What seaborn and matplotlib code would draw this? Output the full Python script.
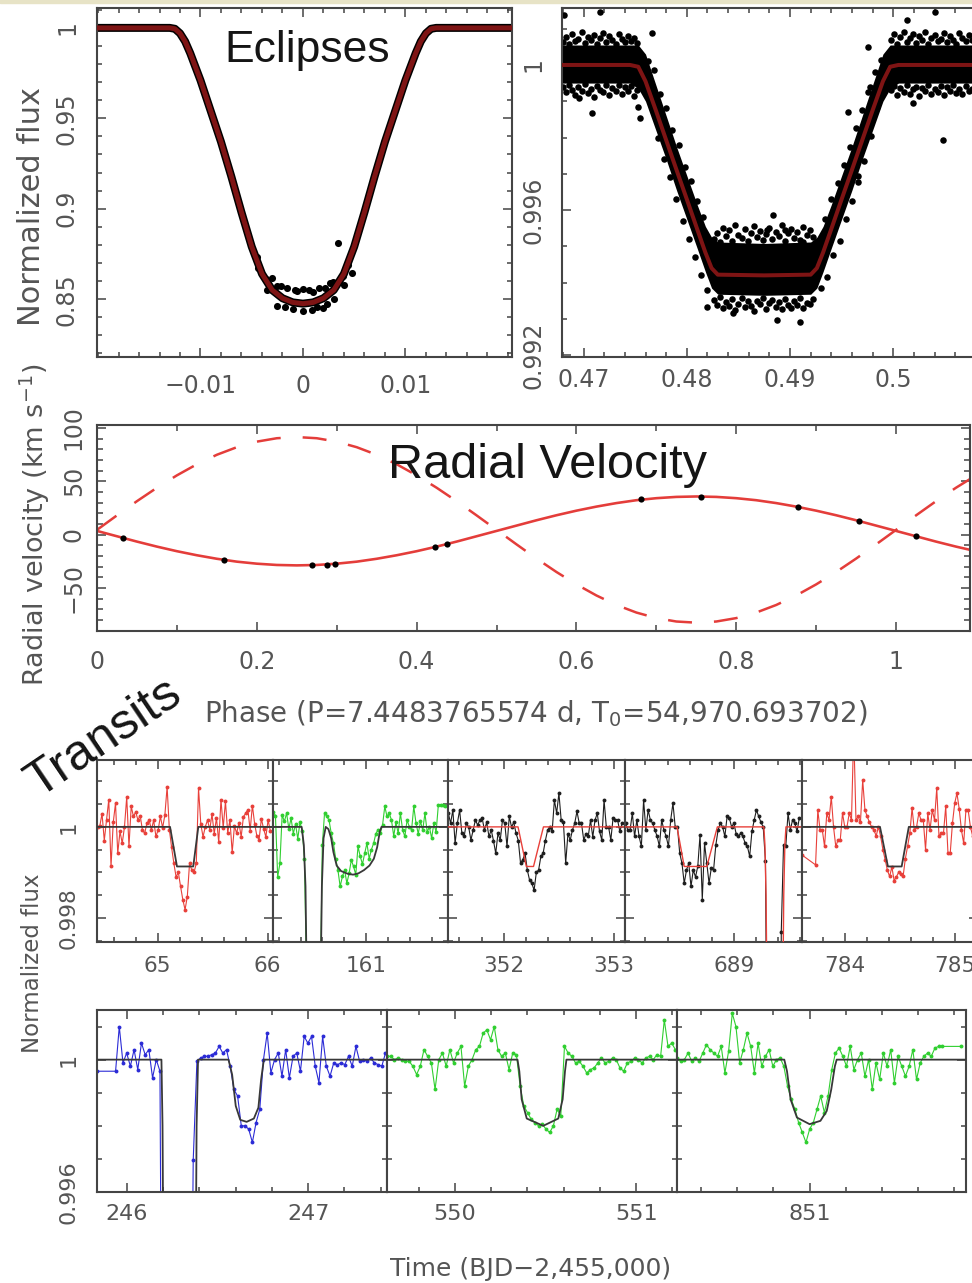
import numpy as np
import pandas as pd
import matplotlib
matplotlib.use("Agg")
import matplotlib.pyplot as plt
from matplotlib.ticker import FixedLocator, MultipleLocator, FuncFormatter
from matplotlib.patches import Rectangle
import seaborn as sns

# ---------------- primary eclipse (phase-folded) ----------------
ecl1_phase = [-0.0205, -0.0130, -0.0125, -0.0120, -0.0115, -0.0110, -0.0100, -0.0090,
              -0.0080, -0.0070, -0.0060, -0.0050, -0.0040, -0.0030, -0.0020, -0.0010,
              0.0000, 0.0010, 0.0020, 0.0030, 0.0040, 0.0050, 0.0060, 0.0070,
              0.0080, 0.0090, 0.0100, 0.0110, 0.0115, 0.0120, 0.0125, 0.0130, 0.0205]
ecl1_flux = [1.0, 1.0, 0.9995, 0.997, 0.9925, 0.986, 0.971, 0.954,
             0.937, 0.918, 0.898, 0.879, 0.864, 0.855, 0.8505, 0.8482,
             0.8475, 0.8482, 0.8505, 0.855, 0.864, 0.879, 0.898, 0.918,
             0.937, 0.954, 0.971, 0.986, 0.9925, 0.997, 0.9995, 1.0, 1.0]
# folded points standing out of the band around minimum
ecl1_pts_phase = [-0.00438, -0.00356, -0.00258, -0.0016, -0.00062, 0.00003, 0.00101,
                  0.00216, 0.00297, 0.00395, 0.00477, -0.00258, -0.00095, 0.0,
                  0.00134, 0.00232, 0.0034,
                  -0.0045, -0.0030, -0.0021, -0.0008, 0.0006, 0.0016, 0.0026, 0.0044,
                  -0.0035, -0.0018, 0.0009, 0.0020, 0.0030, 0.0040]
ecl1_pts_flux = [0.8674, 0.8610, 0.8573, 0.8564, 0.8546, 0.8555, 0.8537,
                 0.8564, 0.8592, 0.8628, 0.8647, 0.8463, 0.8445, 0.8436,
                 0.8454, 0.8473, 0.8812,
                 0.8735, 0.8615, 0.8575, 0.8550, 0.8552, 0.8560, 0.8590, 0.8690,
                 0.8550, 0.8455, 0.8440, 0.8452, 0.8500, 0.8580]

# ---------------- secondary eclipse ----------------
ecl2_phase = [0.4670, 0.4745, 0.4753, 0.4760, 0.4770, 0.4780, 0.4790, 0.4800, 0.4810,
              0.4818, 0.4824, 0.4830, 0.4875, 0.4920, 0.4926, 0.4932, 0.4940, 0.4950,
              0.4960, 0.4970, 0.4980, 0.4990, 0.4997, 0.5005, 0.5110]
ecl2_fit = [1.0, 1.0, 0.99995, 0.99955, 0.99875, 0.99793, 0.99711, 0.99630, 0.99548,
            0.99483, 0.99440, 0.99422, 0.99420, 0.99422, 0.99440, 0.99483, 0.99548, 0.99630,
            0.99711, 0.99793, 0.99875, 0.99955, 0.99995, 1.0, 1.0]
# dense core of the folded points (upper / lower edge)
ecl2_core_hi = [1.00055, 1.00055, 1.00055, 1.00030, 0.99945, 0.99860, 0.99775, 0.99695, 0.99615,
                0.99555, 0.99525, 0.99512, 0.99508, 0.99512, 0.99525, 0.99555, 0.99615, 0.99695,
                0.99775, 0.99860, 0.99945, 1.00030, 1.00055, 1.00055, 1.00055]
ecl2_core_lo = [0.99950, 0.99950, 0.99935, 0.99900, 0.99820, 0.99740, 0.99655, 0.99575, 0.99495,
                0.99430, 0.99385, 0.99368, 0.99365, 0.99368, 0.99385, 0.99430, 0.99495, 0.99575,
                0.99655, 0.99740, 0.99820, 0.99900, 0.99935, 0.99950, 0.99950]
# individual points around the core
ecl2_left_phase = [0.4680, 0.4683, 0.4686, 0.4689, 0.4692, 0.4695, 0.4698, 0.4701, 0.4704,
                   0.4707, 0.4710, 0.4713, 0.4716, 0.4719, 0.4722, 0.4725, 0.4728, 0.4731,
                   0.4734, 0.4737, 0.4740, 0.4743, 0.4746, 0.4749, 0.4752]
ecl2_left_top = [1.00062, 1.00078, 1.00058, 1.00085, 1.00066, 1.00072, 1.00091, 1.00060, 1.00076,
                 1.00068, 1.00083, 1.00057, 1.00074, 1.00088, 1.00064, 1.00079, 1.00069, 1.00058,
                 1.00086, 1.00072, 1.00063, 1.00081, 1.00067, 1.00075, 1.00060]
ecl2_left_bot = [0.99938, 0.99925, 0.99945, 0.99930, 0.99918, 0.99940, 0.99928, 0.99947, 0.99922,
                 0.99935, 0.99912, 0.99942, 0.99930, 0.99926, 0.99944, 0.99917, 0.99936, 0.99929,
                 0.99946, 0.99921, 0.99938, 0.99927, 0.99943, 0.99915, 0.99932]
ecl2_right_phase = [0.4998, 0.5001, 0.5004, 0.5007, 0.5010, 0.5013, 0.5016, 0.5019, 0.5022,
                    0.5025, 0.5028, 0.5031, 0.5034, 0.5037, 0.5040, 0.5043, 0.5046, 0.5049,
                    0.5052, 0.5055, 0.5058, 0.5061, 0.5064, 0.5067, 0.5070, 0.5073, 0.5076,
                    0.5079]
ecl2_right_top = [1.00070, 1.00084, 1.00059, 1.00077, 1.00092, 1.00064, 1.00073, 1.00086, 1.00061,
                  1.00079, 1.00068, 1.00090, 1.00057, 1.00075, 1.00083, 1.00066, 1.00071, 1.00089,
                  1.00062, 1.00080, 1.00069, 1.00058, 1.00087, 1.00073, 1.00065, 1.00082, 1.00070,
                  1.00061]
ecl2_right_bot = [0.99930, 0.99942, 0.99918, 0.99936, 0.99925, 0.99946, 0.99921, 0.99933, 0.99940,
                  0.99914, 0.99937, 0.99928, 0.99945, 0.99920, 0.99934, 0.99926, 0.99943, 0.99917,
                  0.99939, 0.99929, 0.99944, 0.99922, 0.99935, 0.99919, 0.99941, 0.99927, 0.99933,
                  0.99924]
ecl2_floor_phase = [0.4826, 0.4829, 0.4832, 0.4835, 0.4838, 0.4841, 0.4844, 0.4847, 0.4850,
                    0.4853, 0.4856, 0.4859, 0.4862, 0.4865, 0.4868, 0.4871, 0.4874, 0.4877,
                    0.4880, 0.4883, 0.4886, 0.4889, 0.4892, 0.4895, 0.4898, 0.4901, 0.4904,
                    0.4907, 0.4910, 0.4913, 0.4916, 0.4919, 0.4922]
ecl2_floor_top = [0.99520, 0.99538, 0.99512, 0.99550, 0.99528, 0.99545, 0.99516, 0.99560, 0.99532,
                  0.99522, 0.99548, 0.99514, 0.99537, 0.99556, 0.99525, 0.99542, 0.99518, 0.99534,
                  0.99551, 0.99521, 0.99540, 0.99529, 0.99558, 0.99515, 0.99536, 0.99547, 0.99523,
                  0.99539, 0.99517, 0.99552, 0.99530, 0.99544, 0.99526]
ecl2_floor_bot = [0.99352, 0.99338, 0.99360, 0.99330, 0.99346, 0.99335, 0.99355, 0.99325, 0.99342,
                  0.99358, 0.99332, 0.99348, 0.99336, 0.99322, 0.99350, 0.99340, 0.99357, 0.99328,
                  0.99344, 0.99353, 0.99334, 0.99347, 0.99326, 0.99356, 0.99339, 0.99331, 0.99349,
                  0.99337, 0.99359, 0.99329, 0.99345, 0.99341, 0.99354]
ecl2_slope_phase = [0.4762, 0.4768, 0.4774, 0.4780, 0.4786, 0.4792, 0.4798, 0.4804, 0.4810, 0.4816,
                    0.4766, 0.4772, 0.4778, 0.4784, 0.4790, 0.4796, 0.4802, 0.4808, 0.4814, 0.4820,
                    0.4988, 0.4982, 0.4976, 0.4970, 0.4964, 0.4958, 0.4952, 0.4946, 0.4940, 0.4934,
                    0.4984, 0.4978, 0.4972, 0.4966, 0.4960, 0.4954, 0.4948, 0.4942, 0.4936, 0.4930]
ecl2_slope_flux = [1.00010, 0.99985, 0.99920, 0.99880, 0.99820, 0.99780, 0.99720, 0.99680, 0.99625, 0.99580,
                   0.99890, 0.99800, 0.99740, 0.99690, 0.99630, 0.99570, 0.99520, 0.99470, 0.99420, 0.99380,
                   1.00015, 0.99980, 0.99925, 0.99875, 0.99825, 0.99775, 0.99725, 0.99675, 0.99630, 0.99575,
                   0.99885, 0.99805, 0.99735, 0.99695, 0.99625, 0.99575, 0.99515, 0.99475, 0.99415, 0.99385]
ecl2_stray_phase = [0.47081, 0.47549, 0.47532, 0.47662, 0.46952, 0.47162, 0.50485, 0.50195, 0.50131,
                    0.50405, 0.49662, 0.49565, 0.48839, 0.48953, 0.48775, 0.49130, 0.48195, 0.48872,
                    0.49098, 0.48452, 0.49759, 0.49775, 0.46806]
ecl2_stray_flux = [0.99867, 0.99853, 0.99885, 1.00087, 0.99908, 1.00147, 0.99793, 0.99894, 1.00124,
                   1.00147, 0.99678, 0.99871, 0.99586, 0.99545, 0.99545, 0.99513, 0.99333, 0.99297,
                   0.99292, 0.99315, 1.00050, 0.99940, 1.00138]

# ---------------- radial velocities ----------------
rv_phase = [0.032, 0.159, 0.269, 0.288, 0.298, 0.423, 0.438, 0.681, 0.756, 0.877, 0.954, 1.025]
rv_star1 = [-3.0, -23.5, -28.5, -28.0, -27.5, -11.5, -8.5, 33.0, 35.7, 26.0, 12.5, -1.5]
rv_curve_phase = np.linspace(0.0, 1.1, 45)
rv_curve_star1 = [3.5, -1.5, -6.5, -11.2, -15.5, -19.3, -22.6, -25.3, -27.2, -28.4, -28.8,
                  -28.4, -27.2, -25.3, -22.6, -19.3, -15.5, -11.2, -6.5, -1.5, 3.5,
                  8.5, 13.5, 18.2, 22.5, 26.3, 29.6, 32.3, 34.2, 35.4, 35.8,
                  35.4, 34.2, 32.3, 29.6, 26.3, 22.5, 18.2, 13.5, 8.5, 3.5,
                  -1.5, -6.5, -11.2, -15.5]
rv_curve_star2 = [4.5, 18.1, 31.4, 44.0, 55.6, 66.0, 74.9, 82.0, 87.2, 90.4, 91.5,
                  90.4, 87.2, 82.0, 74.9, 66.0, 55.6, 44.0, 31.4, 18.1, 4.5,
                  -9.1, -22.4, -35.0, -46.6, -57.0, -65.9, -73.0, -78.2, -81.4, -82.5,
                  -81.4, -78.2, -73.0, -65.9, -57.0, -46.6, -35.0, -22.4, -9.1, 4.5,
                  18.1, 31.4, 44.0, 55.6]

# ---------------- transits (relative flux in ppm, long cadence) ----------------
cadence = 0.0204

tr065_start, tr065_xlim = 64.455, (64.45, 66.05)
tr065_ppm = [0, 20, 290, -300, 150, 600, -870, 100, 520, -580,
             -100, -360, 0, 660, -430, 450, 230, 330, 150, 250,
             -70, -140, 80, 150, -70, 150, -210, -70, 230, -20,
             260, 880, -60, -450, -800, -1100, -1000, -1310, -1600, -1820,
             -1530, -800, -950, -1000, -800, 850, 70, -220, 0, 150,
             -60, 280, -150, 200, -340, 600, -20, 560, -130, 150,
             -560, 20, -140, 90, -220, 220, 300, 380, -80, 470,
             70, -200, -280, 180, -40, -220, 150, -90]
tr065_fit_t = [64.45, 65.114, 65.177, 65.325, 65.371, 66.05]
tr065_fit_f = [1.0, 1.0, 0.99913, 0.99913, 1.0, 1.0]

tr161_start, tr161_xlim = 160.15, (160.148, 161.748)
tr161_ppm = [330, 250, -1100, -800, 260, 120, 300, -40, 190, -150,
             60, -260, 100, -80, -700, -3500, -25000, -90000, -140000, -100000,
             -35000, -4000, -400, 300, 230, 150, -140, -360, -700, -950,
             -1310, -1090, -950, -1240, -1020, -730, -870, -1050, -430, -650,
             -820, -580, -360, -700, -500, -360, -150, -60, -140, 40,
             450, 230, 300, 150, -200, 100, -140, 300, -70, -210,
             150, 0, -70, 450, 80, -150, 120, -70, 300, -110,
             0, -250, 80, -120, 480, 490, 490, 470]
tr161_fit_t = [160.148, 160.41, 160.43, 160.445, 160.46, 160.47, 160.52, 160.57, 160.58,
               160.595, 160.61, 160.63, 160.655, 160.68, 160.70, 160.73, 160.77, 160.83,
               160.88, 160.93, 160.98, 161.03, 161.07, 161.10, 161.125, 161.14, 161.748]
tr161_fit_f = [1.0, 1.0, 0.9996, 0.9987, 0.9960, 0.9920, 0.86, 0.9920, 0.9960,
               0.9987, 0.99975, 1.0, 0.99995, 0.99975, 0.99945, 0.99915, 0.99903, 0.99897,
               0.99895, 0.99898, 0.99905, 0.99915, 0.99930, 0.99955, 0.9999, 1.0, 1.0]

tr352_start, tr352_xlim = 351.50, (351.497, 353.097)
tr352_ppm = [300, 80, 370, -360, 80, 370, -140, -210, 80, 0,
             -290, -70, 150, 40, 150, 190, -70, 100, -210, -70,
             -300, -580, -140, -290, 150, 80, -430, 230, 0, 100,
             -140, -300, -800, -720, -580, -950, -1170, -1240, -1390, -1000,
             -950, -650, -580, -300, -70, 0, -100, 590, 300, 740,
             150, 100, -800, -150, -290, -70, 80, 340, 80, 80,
             -290, -150, -210, 150, -220, 150, 300, -100, -290, 590,
             0, 0, -290, 200, 150, 150, -100, 80]
tr352_fit_t = [351.497, 352.13, 352.205, 352.27, 352.36, 353.097]
tr352_fit_f = [1.0, 1.0, 0.99913, 0.99913, 1.0, 1.0]

tr689_start, tr689_xlim = 688.02, (688.015, 689.615)
tr689_ppm = [80, -70, -70, 300, -210, 150, -210, -430, 590, -70,
             370, 150, 80, -70, -210, -430, 150, -70, -210, -430,
             150, 520, 0, 0, -580, -800, -1240, -950, -800, -1310,
             -950, -1100, -870, -180, -1600, -360, -800, -1240, -900, -950,
             -400, -70, 80, 0, -210, 230, 190, 0, 80, -150,
             -210, -140, -210, -360, -430, -650, -100, 150, 370, 230,
             100, 0, -760, -8000, -60000, -120000, -130000, -80000, -25000, -2300,
             -400, -430, 300, -70, 150, 80, -100, 200]
tr689_fit_t = [688.015, 688.485, 688.55, 688.755, 688.85, 689.27, 689.28, 689.29, 689.30,
               689.31, 689.37, 689.43, 689.44, 689.45, 689.46, 689.47, 689.615]
tr689_fit_f = [1.0, 1.0, 0.99913, 0.99913, 1.0, 1.0, 0.9996, 0.9985, 0.996,
               0.992, 0.86, 0.992, 0.996, 0.9985, 0.9996, 1.0, 1.0]

tr784_start, tr784_xlim = 783.61, (783.609, 785.209)
tr784_ppm = [-620, None, None, None, None, None, -835, 370, -70, -70,
             -430, 300, 150, 660, 0, -430, -290, -290, 300, 0,
             0, 300, 150, 2100, 150, 230, 100, 1030, 370, 230,
             100, 0, -70, -200, 0, -210, -500, -720, -950, -1090,
             -880, -1180, -1100, -1000, -1040, -1090, -700, -430, -140, 410,
             -70, 0, 300, 150, 150, -500, 300, -70, 370, 150,
             850, -210, -140, -140, 450, -580, -580, 80, 520, 740,
             400, -70, -360, 370, 370, 0, -200, 100]
tr784_fit_t = [783.609, 784.318, 784.39, 784.515, 784.58, 785.209]
tr784_fit_f = [1.0, 1.0, 0.99913, 0.99913, 1.0, 1.0]

tr246_start, tr246_xlim = 245.835, (245.8345, 247.4345)
tr246_ppm = [-350, None, None, None, None, -350, 1000, -100, 200, -200,
             300, -300, 500, 150, 300, -550, 0, -350, -20000, -80000,
             -120000, -140000, -140000, -120000, -70000, -15000, -3030, -50, 50, 100,
             100, 150, 200, 400, 200, 300, -200, -900, -1100, -2000,
             -2000, -2100, -2500, -1900, -1500, 0, 800, -400, 0, 200,
             -500, 300, -550, 100, 200, -350, 700, 500, 700, -200,
             -700, 700, -200, -500, -100, -150, -100, -150, 100, -200,
             400, -50, 0, -50, 50, -100, -150, -200, 200]
tr246_fit_t = [245.8345, 246.190, 246.196, 246.205, 246.29, 246.375, 246.384, 246.392,
               246.56, 246.58, 246.60, 246.625, 246.66, 246.70, 246.725, 246.74, 246.755, 247.4345]
tr246_fit_f = [1.0, 1.0, 0.998, 0.99, 0.86, 0.99, 0.998, 1.0,
               1.0, 0.99955, 0.9986, 0.99818, 0.99812, 0.99822, 0.99855, 0.9994, 1.0, 1.0]

tr550_start, tr550_xlim = 549.625, (549.625, 551.225)
tr550_ppm = [100, 100, 0, 50, 0, -50, -50, -200, -450, -200,
             300, 100, -100, -900, 0, 200, -200, 300, -100, 200,
             400, -800, -200, 0, 300, 400, 800, 900, 600, 1000,
             300, 100, 200, -300, 200, 150, -800, -1400, -1600, -1800,
             -1900, -2000, -1950, -2100, -2200, -2000, -1500, -1700, 400, 200,
             100, -100, -50, -200, -400, -300, -250, -100, 50, -100,
             -50, 50, 0, -250, -350, -100, -50, 50, 0, -100,
             50, 100, 0, 150, 100, 1200, 400, 500, 300]
tr550_fit_t = [549.625, 550.345, 550.355, 550.368, 550.396, 550.487, 550.57, 550.594,
               550.607, 550.615, 551.225]
tr550_fit_f = [1.0, 1.0, 0.99965, 0.9988, 0.99822, 0.998, 0.99822, 0.9988, 0.99965, 1.0, 1.0]

tr851_start, tr851_xlim = 850.266, (850.266, 851.866)
tr851_ppm = [50, -50, 0, 200, -50, 50, -50, 200, 450, 300,
             200, 100, 400, -400, 250, 1400, 1000, -100, 300, 800,
             400, -400, 500, -200, 100, 300, -200, 0, 50, -200,
             -800, -1200, -1500, -1900, -2200, -2500, -2100, -1900, -1500, -1100,
             -1600, -1100, -300, 200, 350, 100, -200, 400, -300, 0,
             200, -500, 0, -900, -100, -600, 200, -200, 300, -700,
             100, -200, -500, -200, 300, -600, -100, 100, 200, 100,
             350, 400, 400, None, None, None, None, 400]
tr851_fit_t = [850.266, 850.86, 850.875, 850.895, 850.93, 851.0, 851.06, 851.095,
               851.12, 851.14, 851.15, 851.866]
tr851_fit_f = [1.0, 1.0, 0.99965, 0.9988, 0.99825, 0.99805, 0.99815, 0.99845,
               0.9991, 0.9998, 1.0, 1.0]

# ---------------- style ----------------
sns.set_theme(style="white")
plt.rcParams["font.family"] = ["DejaVu Sans"]
plt.rcParams["mathtext.fontset"] = "dejavusans"

SPINE = "#444444"
TXT = "#555555"
ECL_FIT = "#7e1414"
RV_RED = "#e43d3a"
RED = "#e8403a"
GREEN = "#30cf30"
BLUE = "#2b2bd6"
BLACK = "#1e1e1e"
DARK = "#383838"

W, H = 972, 1283
fig = plt.figure(figsize=(W / 100, H / 100), dpi=100)
fig.patch.set_facecolor("white")
fig.patches.append(Rectangle((0, 1 - 3 / H), 1, 3 / H, transform=fig.transFigure,
                             color="#e7e3c6", zorder=0))


def px_axes(x0, y0, x1, y1):
    return fig.add_axes([x0 / W, 1 - y1 / H, (x1 - x0) / W, (y1 - y0) / H])


def fxy(x, y):
    return x / W, 1 - y / H


def num(v, pos=None):
    return ("%g" % (round(v, 6) + 0.0)).replace("-", "\u2212")


def dress(ax, size, pad_x, pad_y, major=9, minor=5):
    ax.set_facecolor("white")
    for s in ax.spines.values():
        s.set_visible(True)
        s.set_color(SPINE)
        s.set_linewidth(1.5)
    ax.tick_params(which="both", direction="in", top=True, bottom=True, left=True,
                   right=True, color=SPINE, width=1.1, labelcolor=TXT, labelsize=size)
    ax.tick_params(which="major", length=major * 0.72)
    ax.tick_params(which="minor", length=minor * 0.72)
    ax.tick_params(axis="x", pad=pad_x)
    ax.tick_params(axis="y", pad=pad_y, labelrotation=90)
    ax.set_xlabel("")
    ax.set_ylabel("")


# ---------------- primary eclipse panel ----------------
ax1 = px_axes(97, 8, 512, 357)
sns.lineplot(x=ecl1_phase, y=ecl1_flux, ax=ax1, color="black", lw=8 * 0.72,
             estimator=None, sort=False, legend=False, zorder=2)
sns.scatterplot(x=ecl1_pts_phase, y=ecl1_pts_flux, ax=ax1, color="black", s=26,
                linewidth=0, legend=False, zorder=2)
sns.lineplot(x=ecl1_phase, y=ecl1_flux, ax=ax1, color=ECL_FIT, lw=5 * 0.72,
             estimator=None, sort=False, legend=False, zorder=3)
ax1.set_xlim(-0.0201, 0.0204)
ax1.set_ylim(0.818, 1.011)
ax1.xaxis.set_major_locator(FixedLocator([-0.01, 0.0, 0.01]))
ax1.xaxis.set_minor_locator(MultipleLocator(0.002))
ax1.yaxis.set_major_locator(FixedLocator([0.85, 0.9, 0.95, 1.0]))
ax1.yaxis.set_minor_locator(MultipleLocator(0.01))
ax1.xaxis.set_major_formatter(FuncFormatter(num))
ax1.yaxis.set_major_formatter(FuncFormatter(num))
dress(ax1, 17, 12, 13)

# ---------------- secondary eclipse panel ----------------
ax2 = px_axes(562, 8, 1010, 357)
ax2.fill_between(ecl2_phase, ecl2_core_lo, ecl2_core_hi, color="black", lw=0, zorder=1)
pts2 = pd.DataFrame({
    "phase": (ecl2_left_phase * 2 + ecl2_right_phase * 2 + ecl2_floor_phase * 2
              + ecl2_slope_phase + ecl2_stray_phase),
    "flux": (ecl2_left_top + ecl2_left_bot + ecl2_right_top + ecl2_right_bot
             + ecl2_floor_top + ecl2_floor_bot + ecl2_slope_flux + ecl2_stray_flux),
})
sns.scatterplot(data=pts2, x="phase", y="flux", ax=ax2, color="black", s=22,
                linewidth=0, legend=False, zorder=2)
sns.lineplot(x=ecl2_phase, y=ecl2_fit, ax=ax2, color=ECL_FIT, lw=4 * 0.72,
             estimator=None, sort=False, legend=False, zorder=3)
ax2.set_xlim(0.46791, 0.51131)
ax2.set_ylim(0.99195, 1.00157)
ax2.xaxis.set_major_locator(FixedLocator([0.47, 0.48, 0.49, 0.50]))
ax2.xaxis.set_minor_locator(MultipleLocator(0.002))
ax2.yaxis.set_major_locator(FixedLocator([0.992, 0.996, 1.0]))
ax2.yaxis.set_minor_locator(MultipleLocator(0.001))
ax2.xaxis.set_major_formatter(FuncFormatter(num))
ax2.yaxis.set_major_formatter(FuncFormatter(num))
dress(ax2, 17, 8, 12)

# ---------------- radial velocity panel ----------------
ax3 = px_axes(97, 425, 970, 631)
sns.lineplot(x=rv_curve_phase, y=rv_curve_star2, ax=ax3, color=RV_RED, lw=2.5 * 0.72,
             linestyle=(0, (9.6, 8.8)), estimator=None, sort=False, legend=False, zorder=2)
sns.lineplot(x=rv_curve_phase, y=rv_curve_star1, ax=ax3, color=RV_RED, lw=2.6 * 0.72,
             estimator=None, sort=False, legend=False, zorder=2)
sns.scatterplot(x=rv_phase, y=rv_star1, ax=ax3, color="black", s=20, linewidth=0,
                legend=False, zorder=3)
ax3.set_xlim(0.0, 1.0925)
ax3.set_ylim(-90.3, 102.8)
ax3.xaxis.set_major_locator(FixedLocator([0.0, 0.2, 0.4, 0.6, 0.8, 1.0]))
ax3.xaxis.set_minor_locator(MultipleLocator(0.1))
ax3.yaxis.set_major_locator(FixedLocator([-50, 0, 50, 100]))
ax3.yaxis.set_minor_locator(MultipleLocator(10))
ax3.xaxis.set_major_formatter(FuncFormatter(num))
ax3.yaxis.set_major_formatter(FuncFormatter(num))
dress(ax3, 17, 14, 8, major=9, minor=6)

# ---------------- transit panels ----------------
row1 = [
    (97, 273, tr065_start, tr065_xlim, tr065_ppm, tr065_fit_t, tr065_fit_f, RED, DARK),
    (273, 448, tr161_start, tr161_xlim, tr161_ppm, tr161_fit_t, tr161_fit_f, GREEN, DARK),
    (448, 625, tr352_start, tr352_xlim, tr352_ppm, tr352_fit_t, tr352_fit_f, BLACK, RED),
    (625, 802, tr689_start, tr689_xlim, tr689_ppm, tr689_fit_t, tr689_fit_f, BLACK, RED),
    (802, 978, tr784_start, tr784_xlim, tr784_ppm, tr784_fit_t, tr784_fit_f, RED, DARK),
]
row2 = [
    (97, 387, tr246_start, tr246_xlim, tr246_ppm, tr246_fit_t, tr246_fit_f, BLUE, DARK),
    (387, 677, tr550_start, tr550_xlim, tr550_ppm, tr550_fit_t, tr550_fit_f, GREEN, DARK),
    (677, 966, tr851_start, tr851_xlim, tr851_ppm, tr851_fit_t, tr851_fit_f, GREEN, DARK),
]


def transit_panel(spec, top, bottom, ylim, yticks, ytick_minor):
    x0, x1, start, xlim, ppm, fit_t, fit_f, dcol, mcol = spec
    ax = px_axes(x0, top, x1, bottom)
    ppm_arr = np.array([np.nan if v is None else v for v in ppm], dtype=float)
    df = pd.DataFrame({"t": start + cadence * np.arange(len(ppm_arr)),
                       "flux": 1.0 + ppm_arr * 1e-6}).dropna()
    sns.lineplot(data=df, x="t", y="flux", ax=ax, color=dcol, lw=0.8, marker="o",
                 markersize=2.8, markeredgewidth=0, estimator=None, sort=False,
                 legend=False, zorder=2)
    sns.lineplot(x=fit_t, y=fit_f, ax=ax, color=mcol, lw=1.3 if mcol == DARK else 1.0,
                 estimator=None, sort=False, legend=False, zorder=3)
    ax.set_xlim(*xlim)
    ax.set_ylim(*ylim)
    ax.xaxis.set_major_locator(MultipleLocator(1))
    ax.xaxis.set_minor_locator(MultipleLocator(0.2))
    ax.xaxis.set_major_formatter(FuncFormatter(lambda v, p: "%d" % round(v)))
    ax.yaxis.set_major_locator(FixedLocator(yticks))
    ax.yaxis.set_minor_locator(MultipleLocator(ytick_minor))
    ax.yaxis.set_major_formatter(FuncFormatter(num))
    return ax


trans_axes = []
for i, spec in enumerate(row1):
    ax = transit_panel(spec, 760, 942, (0.99747, 1.00147), [0.998, 1.0], 0.0005)
    dress(ax, 15.5, 10, 13, major=9, minor=5)
    if i > 0:
        ax.tick_params(axis="y", labelleft=False)
    trans_axes.append(ax)
for i, spec in enumerate(row2):
    ax = transit_panel(spec, 1010, 1192, (0.996, 1.0015), [0.996, 1.0], 0.001)
    dress(ax, 16, 9, 13, major=9, minor=5)
    if i > 0:
        ax.tick_params(axis="y", labelleft=False)
    trans_axes.append(ax)

for ax in [ax1, ax2, ax3] + trans_axes:
    plt.setp(ax.get_yticklabels(), va="center")

# ---------------- labels and titles ----------------
fig.text(*fxy(31, 206), "Normalized flux", rotation=90, ha="center", va="center",
         fontsize=22, color=TXT)
fig.text(*fxy(35, 525), "Radial velocity (km s$^{-1}$)", rotation=90, ha="center",
         va="center", fontsize=19.5, color=TXT)
fig.text(*fxy(536, 722), "Phase (P=7.4483765574 d, T$_0$=54,970.693702)", ha="center",
         va="baseline", fontsize=20, color=TXT)
fig.text(*fxy(33, 963), "Normalized flux", rotation=90, ha="center", va="center",
         fontsize=16.5, color=TXT)
fig.text(*fxy(531, 1276), "Time (BJD\u22122,455,000)", ha="center", va="baseline",
         fontsize=18, color=TXT)

fig.text(*fxy(307, 62), "Eclipses", ha="center", va="baseline", fontsize=32,
         family="Liberation Sans", color="#151515")
fig.text(*fxy(548, 478), "Radial Velocity", ha="center", va="baseline", fontsize=35,
         family="Liberation Sans", color="#151515")
fig.text(*fxy(105, 738), "Transits", ha="center", va="center", rotation=34,
         rotation_mode="anchor", fontsize=36, family="Liberation Sans", color="#151515")

fig.savefig("out.png", dpi=100, facecolor="white")
